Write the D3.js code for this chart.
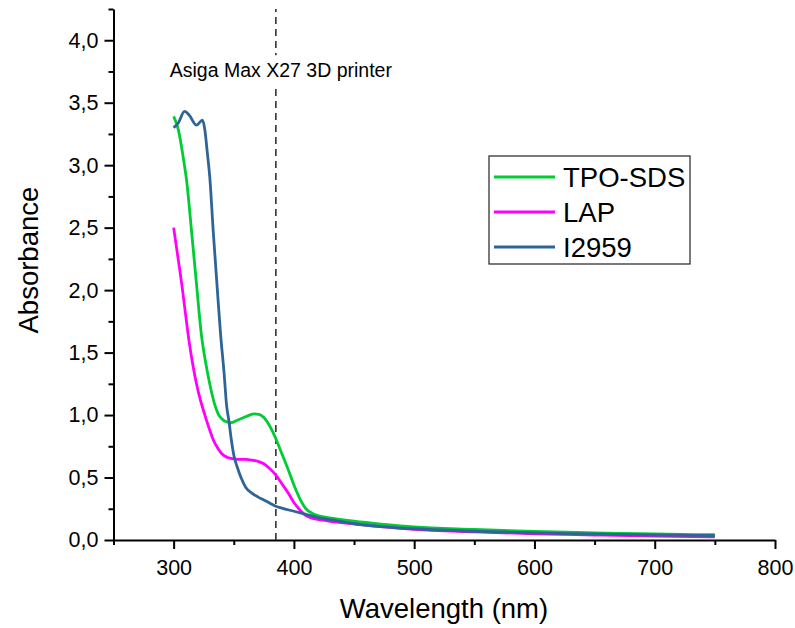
<!DOCTYPE html>
<html>
<head>
<meta charset="utf-8">
<script src="https://cdn.jsdelivr.net/npm/d3@7"></script>
<style>
  body { margin: 0; background: #fff; }
  svg text { font-family: Arial, "Liberation Sans", sans-serif; fill: #000; }
</style>
</head>
<body>
<div id="chart"></div>
<script>
// wavelengths (nm) and absorbance per series
const tpoWave = [300, 304, 308, 311, 315, 319, 323, 327, 330, 334, 337, 340, 344, 348, 352, 357, 362, 367, 371, 375, 380, 385, 390, 395, 400, 405, 410, 415, 420, 425, 435, 450, 475, 500, 550, 600, 650, 700, 750];
const tpoAbs = [3.39, 3.28, 3.06, 2.86, 2.46, 2.05, 1.65, 1.40, 1.25, 1.09, 1.01, 0.97, 0.945, 0.94, 0.955, 0.975, 0.995, 1.01, 1.005, 0.98, 0.91, 0.81, 0.69, 0.57, 0.44, 0.33, 0.25, 0.215, 0.195, 0.185, 0.17, 0.15, 0.125, 0.105, 0.085, 0.068, 0.057, 0.048, 0.042];

const lapWave = [300, 303, 307, 310, 313, 316, 319, 322, 326, 330, 333, 337, 340, 345, 350, 355, 360, 365, 370, 375, 380, 385, 390, 395, 400, 405, 410, 415, 420, 430, 450, 475, 500, 550, 600, 650, 700, 750];
const lapAbs = [2.50, 2.30, 2.03, 1.80, 1.58, 1.40, 1.25, 1.13, 1.00, 0.88, 0.80, 0.73, 0.69, 0.66, 0.65, 0.645, 0.645, 0.64, 0.63, 0.61, 0.57, 0.52, 0.45, 0.38, 0.30, 0.24, 0.195, 0.175, 0.165, 0.15, 0.13, 0.105, 0.085, 0.065, 0.05, 0.04, 0.032, 0.026];

const i2959Wave = [300, 304, 309, 313, 319, 324, 326, 328, 330, 333, 336, 339, 342, 344, 346, 348, 350, 353, 356, 360, 365, 370, 375, 380, 385, 390, 400, 410, 420, 435, 450, 475, 500, 550, 600, 650, 700, 750];
const i2959Abs = [3.30, 3.34, 3.43, 3.40, 3.32, 3.36, 3.28, 3.10, 2.91, 2.46, 2.05, 1.65, 1.33, 1.08, 0.95, 0.80, 0.68, 0.58, 0.50, 0.42, 0.375, 0.345, 0.32, 0.295, 0.27, 0.255, 0.23, 0.205, 0.18, 0.155, 0.13, 0.105, 0.09, 0.07, 0.057, 0.048, 0.04, 0.035];

const seriesNames = ["TPO-SDS", "LAP", "I2959"];
const seriesColors = ["#00cc33", "#ff00ff", "#2f6498"];

const xTicks = [300, 400, 500, 600, 700, 800];
const xMinor = [250, 350, 450, 550, 650, 750];
const yTicks = [0, 0.5, 1, 1.5, 2, 2.5, 3, 3.5, 4];
const yMinor = [0.25, 0.75, 1.25, 1.75, 2.25, 2.75, 3.25, 3.75, 4.25];

const printerWave = 385;
const printerLabel = "Asiga Max X27 3D printer";

const series = [
  { name: seriesNames[0], color: seriesColors[0], values: tpoWave.map((w, i) => [w, tpoAbs[i]]) },
  { name: seriesNames[1], color: seriesColors[1], values: lapWave.map((w, i) => [w, lapAbs[i]]) },
  { name: seriesNames[2], color: seriesColors[2], values: i2959Wave.map((w, i) => [w, i2959Abs[i]]) }
];

const width = 795, height = 628;

const x = d3.scaleLinear()
            .domain([250, 800])
            .range([113.5, 775]);

const y = d3.scaleLinear()
            .domain([0, 4.25])
            .range([540, 9]);

const svg = d3.select("#chart")
              .append("svg")
              .attr("width", width)
              .attr("height", height);

const comma = d => d3.format(".1f")(d).replace(".", ",");

// x axis
const xAxis = svg.append("g")
  .attr("transform", `translate(0,${y(0)})`)
  .call(d3.axisBottom(x).tickValues(xTicks).tickSize(9).tickSizeOuter(0).tickFormat(d3.format("d")));
xAxis.selectAll(".tick line").attr("stroke-width", 2);
xAxis.select(".domain").attr("stroke-width", 2);
xAxis.selectAll(".tick text").attr("font-size", 21.5).attr("dy", "1.05em");

svg.append("g")
  .attr("transform", `translate(0,${y(0)})`)
  .call(d3.axisBottom(x).tickValues(xMinor).tickSize(5).tickSizeOuter(0).tickFormat(""))
  .call(g => g.select(".domain").remove())
  .selectAll("line").attr("stroke-width", 2);

// y axis
const yAxis = svg.append("g")
  .attr("transform", `translate(${x(250)},0)`)
  .call(d3.axisLeft(y).tickValues(yTicks).tickSize(9).tickSizeOuter(0).tickFormat(comma));
yAxis.selectAll(".tick line").attr("stroke-width", 2);
yAxis.select(".domain").attr("stroke-width", 2);
yAxis.selectAll(".tick text").attr("font-size", 21.5).attr("x", -15);

svg.append("g")
  .attr("transform", `translate(${x(250)},0)`)
  .call(d3.axisLeft(y).tickValues(yMinor).tickSize(5).tickSizeOuter(0).tickFormat(""))
  .call(g => g.select(".domain").remove())
  .selectAll("line").attr("stroke-width", 2);

// axis titles
svg.append("text")
  .attr("x", 444)
  .attr("y", 618)
  .attr("text-anchor", "middle")
  .attr("font-size", 27.5)
  .text("Wavelength (nm)");

svg.append("text")
  .attr("transform", `translate(38,${y(2.24)}) rotate(-90)`)
  .attr("text-anchor", "middle")
  .attr("font-size", 27.5)
  .text("Absorbance");

// printer wavelength marker
svg.append("line")
  .attr("x1", x(printerWave))
  .attr("x2", x(printerWave))
  .attr("y1", y(0))
  .attr("y2", y(4.25))
  .attr("stroke", "#222")
  .attr("stroke-width", 1.5)
  .attr("stroke-dasharray", "7,5");

const note = svg.append("text")
  .attr("x", x(printerWave) + 5)
  .attr("y", y(3.72) + 2)
  .attr("text-anchor", "middle")
  .attr("font-size", 19.5)
  .text(printerLabel);

// white patch behind the label, so the dashed line breaks there
const nb = note.node().getBBox();
svg.append("rect")
  .attr("x", nb.x - 3)
  .attr("y", nb.y - 4)
  .attr("width", nb.width + 6)
  .attr("height", nb.height + 8)
  .attr("fill", "#fff");
note.raise();

// curves
const line = d3.line()
  .x(d => x(d[0]))
  .y(d => y(d[1]))
  .curve(d3.curveMonotoneX);

svg.selectAll(".curve")
  .data(series)
  .join("path")
  .attr("class", "curve")
  .attr("fill", "none")
  .attr("stroke", d => d.color)
  .attr("stroke-width", 2.8)
  .attr("stroke-linejoin", "round")
  .attr("d", d => line(d.values));

// legend
const legend = svg.append("g").attr("transform", "translate(489,156)");
legend.append("rect")
  .attr("width", 201)
  .attr("height", 108)
  .attr("fill", "#fff")
  .attr("stroke", "#222")
  .attr("stroke-width", 1.2);

const item = legend.selectAll(".item")
  .data(series)
  .join("g")
  .attr("class", "item")
  .attr("transform", (d, i) => `translate(0,${21 + i * 35})`);

item.append("line")
  .attr("x1", 5)
  .attr("x2", 66)
  .attr("stroke", d => d.color)
  .attr("stroke-width", 2.8);

item.append("text")
  .attr("x", 74)
  .attr("dy", "0.36em")
  .attr("font-size", 27.5)
  .text(d => d.name);
</script>
</body>
</html>
